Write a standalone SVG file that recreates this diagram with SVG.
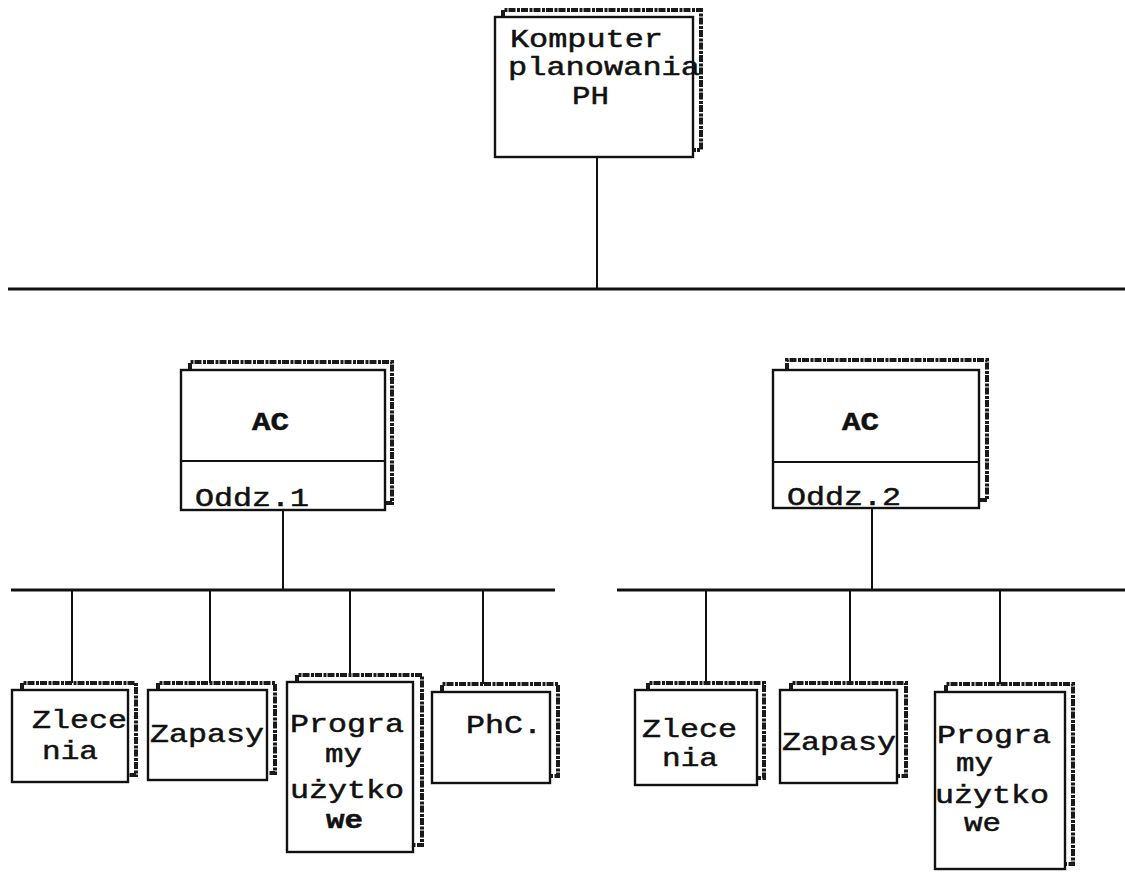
<svg xmlns="http://www.w3.org/2000/svg" width="1125" height="872" viewBox="0 0 1125 872">
<style>
.front{fill:#fff;stroke:#111;stroke-width:2.4}
.back{fill:none;stroke:#1a1a1a;stroke-width:4;stroke-dasharray:7 1.5 3 1;stroke-linejoin:miter}
.bus{stroke:#111;stroke-width:3.2;fill:none}
.con{stroke:#111;stroke-width:2;fill:none}
.div{stroke:#111;stroke-width:2.2}
text{font-family:"Liberation Mono","Courier New",monospace;font-size:26px;fill:#111;stroke:#111;stroke-width:0.5}
.b{font-weight:bold}
</style>
<rect width="1125" height="872" fill="#fff"/>
<g id="connectors">
<path class="bus" d="M8,289 H1125"/>
<path class="bus" d="M11,590 H555"/>
<path class="bus" d="M617,590 H1125"/>
<path class="con" d="M597,157 V289"/>
<path class="con" d="M283,510 V590"/>
<path class="con" d="M872,508 V590"/>
<path class="con" d="M72,590 V683"/>
<path class="con" d="M210,590 V683"/>
<path class="con" d="M350,590 V675"/>
<path class="con" d="M483,590 V684"/>
<path class="con" d="M706,590 V683"/>
<path class="con" d="M850,590 V683"/>
<path class="con" d="M1000,590 V684"/>
</g>
<g id="komputer">
<path class="back" d="M503,17 V10 H701 V150 H693"/>
<rect class="front" x="495" y="17" width="198" height="140"/>
<text x="510" y="47" textLength="153" lengthAdjust="spacingAndGlyphs">Komputer</text>
<text x="508" y="75" textLength="192" lengthAdjust="spacingAndGlyphs">planowania</text>
<text x="572" y="104" textLength="37" lengthAdjust="spacingAndGlyphs">PH</text>
</g>
<g id="ac1">
<path class="back" d="M190,370 V362 H392 V503 H385"/>
<rect class="front" x="181" y="370" width="204" height="140"/>
<line class="div" x1="181" y1="461" x2="385" y2="461"/>
<text class="b" x="252" y="430" textLength="37" lengthAdjust="spacingAndGlyphs">AC</text>
<text x="195" y="506" textLength="114" lengthAdjust="spacingAndGlyphs">Oddz.1</text>
</g>
<g id="ac2">
<path class="back" d="M787,370 V360 H987 V500 H979"/>
<rect class="front" x="773" y="370" width="206" height="138"/>
<line class="div" x1="773" y1="462" x2="979" y2="462"/>
<text class="b" x="842" y="430" textLength="37" lengthAdjust="spacingAndGlyphs">AC</text>
<text x="787" y="505" textLength="114" lengthAdjust="spacingAndGlyphs">Oddz.2</text>
</g>
<g id="zlecenia1">
<path class="back" d="M22,690 V683 H136 V775 H128"/>
<rect class="front" x="12" y="690" width="116" height="92"/>
<text x="32" y="728" textLength="95" lengthAdjust="spacingAndGlyphs">Zlece</text>
<text x="42" y="759" textLength="56" lengthAdjust="spacingAndGlyphs">nia</text>
</g>
<g id="zapasy1">
<path class="back" d="M158,690 V683 H275 V773 H267"/>
<rect class="front" x="148" y="690" width="119" height="90"/>
<text x="150" y="742" textLength="114" lengthAdjust="spacingAndGlyphs">Zapasy</text>
</g>
<g id="programy1">
<path class="back" d="M297,682 V675 H422 V845 H413"/>
<rect class="front" x="287" y="682" width="126" height="170"/>
<text x="290" y="732" textLength="114" lengthAdjust="spacingAndGlyphs">Progra</text>
<text x="325" y="762" textLength="37" lengthAdjust="spacingAndGlyphs">my</text>
<text x="290" y="798" textLength="114" lengthAdjust="spacingAndGlyphs">użytko</text>
<text class="b" x="326" y="828" textLength="37" lengthAdjust="spacingAndGlyphs">we</text>
</g>
<g id="phc">
<path class="back" d="M442,692 V684 H558 V776 H550"/>
<rect class="front" x="432" y="692" width="118" height="91"/>
<text x="466" y="733" textLength="76" lengthAdjust="spacingAndGlyphs">PhC.</text>
</g>
<g id="zlecenia2">
<path class="back" d="M648,690 V683 H764 V778 H757"/>
<rect class="front" x="635" y="690" width="122" height="95"/>
<text x="642" y="737" textLength="95" lengthAdjust="spacingAndGlyphs">Zlece</text>
<text x="662" y="766" textLength="56" lengthAdjust="spacingAndGlyphs">nia</text>
</g>
<g id="zapasy2">
<path class="back" d="M791,690 V683 H906 V776 H897"/>
<rect class="front" x="780" y="690" width="117" height="93"/>
<text x="782" y="750" textLength="114" lengthAdjust="spacingAndGlyphs">Zapasy</text>
</g>
<g id="programy2">
<path class="back" d="M946,692 V684 H1073 V864 H1065"/>
<rect class="front" x="935" y="692" width="130" height="177"/>
<text x="937" y="743" textLength="114" lengthAdjust="spacingAndGlyphs">Progra</text>
<text x="956" y="771" textLength="37" lengthAdjust="spacingAndGlyphs">my</text>
<text x="935" y="803" textLength="114" lengthAdjust="spacingAndGlyphs">użytko</text>
<text x="964" y="831" textLength="37" lengthAdjust="spacingAndGlyphs">we</text>
</g>
</svg>
